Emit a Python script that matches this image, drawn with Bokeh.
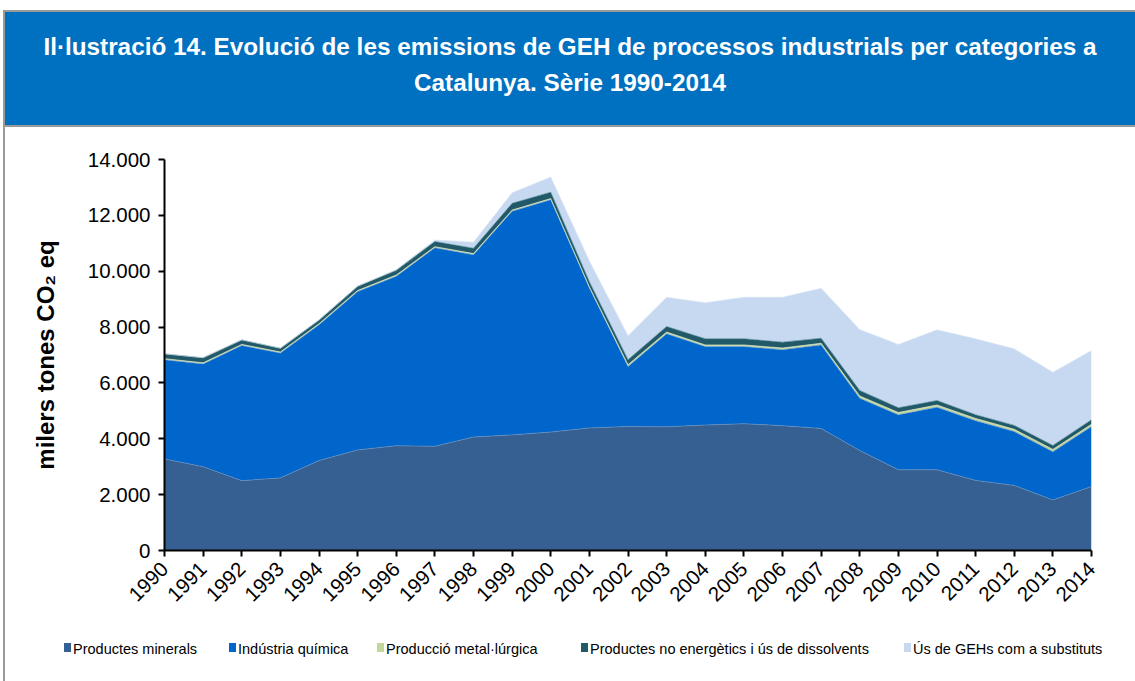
from bokeh.plotting import figure
from bokeh.models import ColumnDataSource, Div, FixedTicker
from bokeh.layouts import column, row
from bokeh.embed import file_html
from bokeh.resources import INLINE
import math

years = [1990, 1991, 1992, 1993, 1994, 1995, 1996, 1997, 1998, 1999, 2000, 2001, 2002,
         2003, 2004, 2005, 2006, 2007, 2008, 2009, 2010, 2011, 2012, 2013, 2014]
minerals = [3280, 3000, 2500, 2600, 3220, 3600, 3750, 3730, 4060, 4140, 4240, 4390, 4440,
            4430, 4490, 4540, 4470, 4370, 3580, 2890, 2890, 2510, 2330, 1810, 2290]
chemistry = [3550, 3680, 4840, 4470, 4860, 5670, 6070, 7110, 6530, 8010, 8320, 5010, 2150,
             3330, 2810, 2760, 2720, 2990, 1870, 1970, 2240, 2140, 1930, 1730, 2150]
metal = [40, 40, 40, 40, 40, 40, 40, 40, 40, 40, 40, 40, 60,
         60, 60, 60, 60, 60, 80, 80, 80, 80, 80, 80, 80]
nonenergy = [170, 180, 160, 130, 130, 150, 170, 180, 190, 240, 230, 180, 180,
             200, 220, 220, 210, 180, 200, 170, 160, 130, 140, 140, 160]
substitutes = [0, 0, 0, 0, 0, 0, 30, 60, 220, 380, 540, 750, 860,
               1050, 1290, 1490, 1610, 1790, 2180, 2270, 2530, 2720, 2740, 2620, 2480]

labels = ["Productes minerals", "Indústria química", "Producció metal·lúrgica",
          "Productes no energètics i ús de dissolvents", "Ús de GEHs com a substituts"]
colors = ["#376092", "#0066CC", "#C4D79B", "#215968", "#C6D9F1"]
keys = ["minerals", "chemistry", "metal", "nonenergy", "substitutes"]
y_ticks = [0, 2000, 4000, 6000, 8000, 10000, 12000, 14000]
y_tick_labels = ["0", "2.000", "4.000", "6.000", "8.000", "10.000", "12.000", "14.000"]

title_text = ("Il·lustració 14. Evolució de les emissions de GEH de processos industrials "
              "per categories a<br>Catalunya. Sèrie 1990-2014")

source = ColumnDataSource(dict(year=years, minerals=minerals, chemistry=chemistry,
                               metal=metal, nonenergy=nonenergy, substitutes=substitutes))

CW = 1130  # content width (x = 5 .. 1135)
FONT = "'Liberation Sans',Arial,sans-serif"

header = Div(
    text=('<div style="box-sizing:border-box;width:%dpx;height:117px;background:#0070C0;'
          'border-top:2px solid #9a9a9a;border-bottom:2px solid #9a9a9a;color:white;'
          'font-family:%s;font-weight:bold;font-size:24.3px;line-height:36px;'
          'text-align:center;white-space:nowrap;padding-top:17px;">%s</div>') % (CW, FONT, title_text),
    width=CW, height=117, margin=(10, 0, 0, 0))

# main chart: frame from x=164..1091, y=159..550 (page coords)
p = figure(width=CW, height=493, x_range=(1990, 2014), y_range=(0, 14000),
           output_backend="svg", toolbar_location=None,
           min_border_left=159, min_border_right=44, min_border_top=32, min_border_bottom=70)
p.margin = (0, 0, 0, 0)

p.varea_stack(stackers=keys, x="year", color=colors, source=source)
p.vline_stack(stackers=keys, x="year", color=["#6d8fb8", "#4f8fd9", "#e6edc8", "#3f7784", "#dbe6f5"],
              line_width=0.8, line_alpha=0.8, source=source)

p.outline_line_color = None
p.xgrid.visible = False
p.ygrid.visible = False
p.background_fill_color = "white"
p.border_fill_color = "white"

for ax in (p.xaxis[0], p.yaxis[0]):
    ax.axis_line_color = "black"
    ax.axis_line_width = 2
    ax.major_tick_line_color = "black"
    ax.major_tick_line_width = 2
    ax.major_tick_out = 6
    ax.major_tick_in = 0
    ax.minor_tick_line_color = None
    ax.major_label_text_font = "Liberation Sans"
    ax.major_label_text_font_size = "20.5px"
    ax.major_label_text_color = "black"

p.yaxis.ticker = FixedTicker(ticks=y_ticks)
p.yaxis.major_label_overrides = {t: l for t, l in zip(y_ticks, y_tick_labels)}
p.yaxis.major_label_standoff = 8
p.yaxis.axis_label = "milers tones CO₂ eq"
p.yaxis.axis_label_text_font = "Liberation Sans"
p.yaxis.axis_label_text_font_size = "24px"
p.yaxis.axis_label_text_font_style = "bold"
p.yaxis.axis_label_text_color = "black"
p.yaxis.axis_label_standoff = 26

p.xaxis.ticker = FixedTicker(ticks=years)
p.xaxis.major_label_orientation = math.pi / 4
p.xaxis.major_label_standoff = 9

# legend strip (HTML), positions relative to x = 5
swatch_left = [59, 224, 372, 576, 899]
items_html = ""
for lab, col, sx in zip(labels, colors, swatch_left):
    items_html += ('<span style="position:absolute;left:%dpx;top:23px;width:7px;height:9px;'
                   'background:%s;"></span>') % (sx, col)
    items_html += ('<span style="position:absolute;left:%dpx;top:21px;font-family:%s;'
                   'font-size:14.5px;line-height:16px;color:black;white-space:nowrap;">%s</span>'
                   ) % (sx + 9, FONT, lab)
legend_div = Div(text='<div style="position:relative;width:%dpx;height:61px;">%s</div>' % (CW, items_html),
                 width=CW, height=61, margin=(0, 0, 0, 0))

left_bar = Div(text="", width=2, height=671, margin=(10, 0, 0, 3),
               styles={"background-color": "#9a9a9a"})

content = column(header, p, legend_div, spacing=0)
layout = row(left_bar, content, spacing=0)
open("out.html", "w").write(file_html(layout, INLINE))
